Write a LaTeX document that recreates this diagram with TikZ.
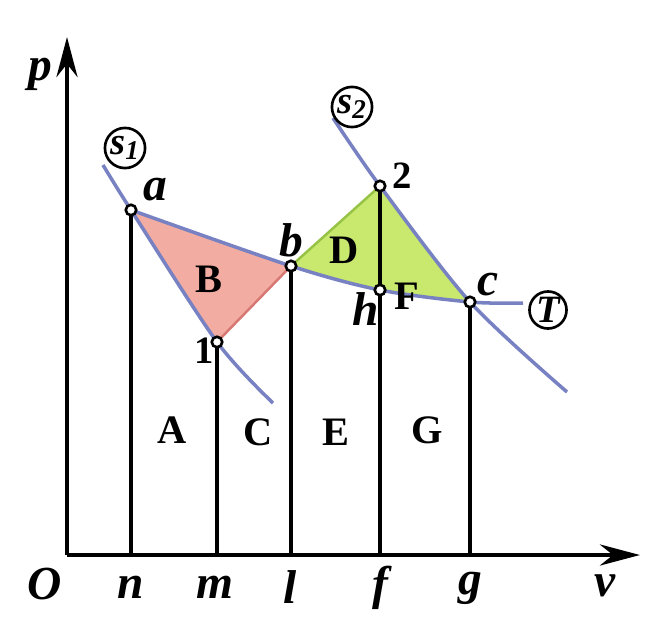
\documentclass[tikz,border=0pt]{standalone}
\usepackage{fontspec}
\setmainfont{Liberation Serif}
\usetikzlibrary{arrows.meta,positioning,calc}
\definecolor{isoblue}{RGB}{120,130,195}
\definecolor{cycred}{RGB}{242,172,162}
\definecolor{cycredline}{RGB}{215,120,115}
\definecolor{cycgreen}{RGB}{200,232,110}
\definecolor{cycgreenline}{RGB}{150,195,70}

\begin{document}
\begin{tikzpicture}[every node/.style={font=\fontsize{22}{24}\selectfont\bfseries}]
  \tikzset{
    axis/.style={line width=2.8pt, -{Stealth[length=0.8cm, width=0.42cm]}},
    drop/.style={line width=2pt},
    curve/.style={isoblue, line width=2pt},
    ptmark/.style={circle, draw, fill=white, line width=1.5pt, inner sep=0pt, minimum size=0.21cm},
    lbl/.style={font=\fontsize{27}{29}\selectfont\bfseries\itshape},
    region/.style={font=\fontsize{23}{25}\selectfont\bfseries},
    tag/.style={circle, draw, line width=1.5pt, inner sep=0.5pt, minimum size=0.7cm,
      font=\fontsize{22}{24}\selectfont\bfseries\itshape}
  }
  \useasboundingbox (-1.34,-1.42) rectangle (11.86,11.1);

  % state points
  \coordinate (O)  at (0,0);
  \coordinate (a)  at (1.28,6.90);
  \coordinate (p1) at (3.00,4.26);
  \coordinate (b)  at (4.48,5.78);
  \coordinate (p2) at (6.26,7.38);
  \coordinate (h)  at (6.26,5.30);
  \coordinate (c)  at (8.06,5.06);
  % curve ends
  \coordinate (s1top) at (0.72,7.80);
  \coordinate (s1end) at (4.12,3.04);
  \coordinate (s2top) at (5.32,8.74);
  \coordinate (s2end) at (10.0,3.26);
  \coordinate (Tend)  at (9.12,5.04);

  % shaded areas
  \fill[cycred] (a) -- (p1) -- (b) -- cycle;
  \fill[cycgreen] (b) -- (p2) -- (c) -- (h) -- cycle;
  \draw[cycredline, line width=1.4pt] (p1) -- (b);
  \draw[cycgreenline, line width=1.4pt] (b) -- (p2);

  % isentropes and isotherm
  \draw[curve] plot[smooth] coordinates {(s1top) (a) (p1) (s1end)};
  \draw[curve] plot[smooth] coordinates {(s2top) (p2) (c) (s2end)};
  \draw[curve] plot[smooth] coordinates {(a) (b) (h) (c) (Tend)};

  % axes
  \coordinate (ptop) at (0,10.36);
  \coordinate (vend) at (11.46,0);
  \draw[axis] (O) -- (ptop);
  \draw[axis] (O) -- (vend);

  % drop lines
  \draw[drop] (a)  -- (a |- O);
  \draw[drop] (p1) -- (p1 |- O);
  \draw[drop] (b)  -- (b |- O);
  \draw[drop] (p2) -- (p2 |- O);
  \draw[drop] (c)  -- (c |- O);

  % markers
  \foreach \pt in {a,p1,b,p2,h,c}
    \node[ptmark] at (\pt) {};

  % point labels
  \node[lbl] (la) at (1.76,7.30) {a};
  \node[lbl] (lb) at (4.48,6.30) {b};
  \node[lbl] (lc) at (8.42,5.40) {c};
  \node[lbl] (lh) at (5.98,4.92) {h};
  \node (l1) at (2.74,4.08) {1};
  \node (l2) at (6.70,7.58) {2};

  % region letters
  \node[region] (rA) at (2.10,2.50) {A};
  \node[region] (rB) at (2.84,5.52) {B};
  \node[region] (rC) at (3.82,2.46) {C};
  \node[region] (rD) at (5.54,6.10) {D};
  \node[region] (rE) at (5.38,2.46) {E};
  \node[region] (rF) at (6.80,5.18) {F};
  \node[region] (rG) at (7.20,2.50) {G};

  % curve tags
  \node[tag] (ts1) at (1.16,8.14) {s\textsubscript{1}};
  \node[tag] (ts2) at (5.70,8.96) {s\textsubscript{2}};
  \node[tag] (tT)  at (9.62,4.90) {T};

  % axis labels
  \node[lbl] (lp) at (-0.54,9.62) {p};
  \node[lbl] (lO) at (-0.44,-0.58) {O};
  \node[lbl] (lv) at (10.76,-0.62) {v};
  \node[lbl] (ln) at (1.28,-0.64) {n};
  \node[lbl] (lm) at (2.96,-0.64) {m};
  \node[lbl] (ll) at (4.46,-0.64) {l};
  \node[lbl] (lf) at (6.26,-0.66) {f};
  \node[lbl] (lg) at (8.06,-0.66) {g};
\end{tikzpicture}
\end{document}
